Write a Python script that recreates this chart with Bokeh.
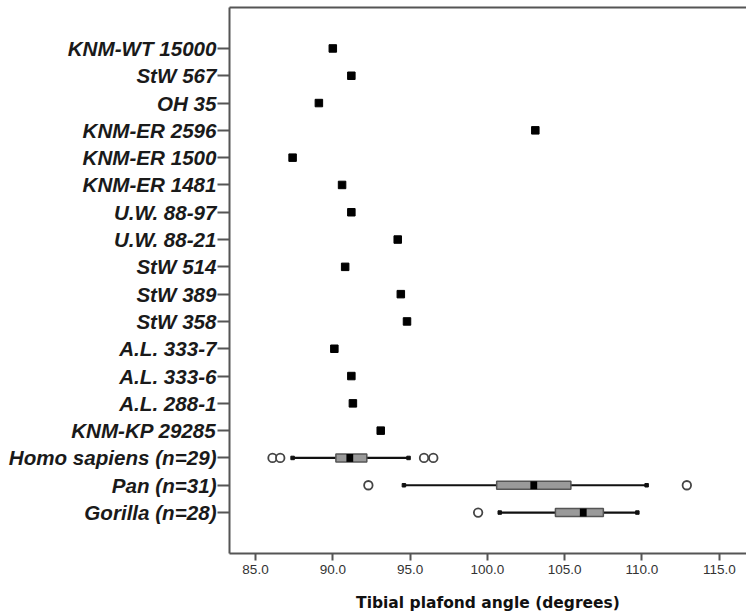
from bokeh.plotting import figure
from bokeh.models import (Range1d, FixedTicker, LinearAxis, NumeralTickFormatter,
                          ColumnDataSource)
from bokeh.embed import file_html
from bokeh.resources import INLINE

# Individual fossil specimens: tibial plafond angle (degrees)
fossils = ["KNM-WT 15000", "StW 567", "OH 35", "KNM-ER 2596", "KNM-ER 1500",
           "KNM-ER 1481", "U.W. 88-97", "U.W. 88-21", "StW 514", "StW 389",
           "StW 358", "A.L. 333-7", "A.L. 333-6", "A.L. 288-1", "KNM-KP 29285"]
fossil_angles = [90.0, 91.2, 89.1, 103.1, 87.4, 90.6, 91.2, 94.2, 90.8, 94.4,
                 94.8, 90.1, 91.2, 91.3, 93.1]

# Extant comparative samples (box plot summaries)
groups = ["Homo sapiens (n=29)", "Pan (n=31)", "Gorilla (n=28)"]
whisker_low = [87.4, 94.6, 100.8]
q1 = [90.2, 100.6, 104.4]
median = [91.1, 103.0, 106.2]
q3 = [92.2, 105.4, 107.5]
whisker_high = [94.9, 110.3, 109.7]

outlier_groups = ["Homo sapiens (n=29)", "Homo sapiens (n=29)",
                  "Homo sapiens (n=29)", "Homo sapiens (n=29)",
                  "Pan (n=31)", "Pan (n=31)", "Gorilla (n=28)"]
outlier_angles = [86.1, 86.6, 95.9, 96.5, 92.3, 112.9, 99.4]

x_ticks = [85, 90, 95, 100, 105, 110, 115]

# Row positions: first category on top
rows = fossils + groups
pos = {name: len(rows) - 1 - i for i, name in enumerate(rows)}

p = figure(width=746, height=615, output_backend="svg", toolbar_location=None,
           x_range=Range1d(83.318, 116.76), y_range=Range1d(-1.5, len(rows) + 0.5),
           min_border_left=229, min_border_right=0, min_border_top=7,
           min_border_bottom=62)
p.outline_line_color = None
p.xgrid.visible = False
p.ygrid.visible = False
p.background_fill_color = "white"
p.border_fill_color = "white"

axis_col = "#555555"

# x axis
xa = p.xaxis[0]
xa.ticker = FixedTicker(ticks=x_ticks)
xa.formatter = NumeralTickFormatter(format="0.0")
xa.axis_label = "Tibial plafond angle (degrees)"
xa.axis_label_text_font = "DejaVu Sans"
xa.axis_label_text_font_style = "bold"
xa.axis_label_text_font_size = "15.5px"
xa.axis_label_text_color = "#111111"
xa.axis_label_standoff = 17
xa.major_label_text_font = "Liberation Sans"
xa.major_label_text_font_size = "13.5px"
xa.major_label_text_color = "#333333"
xa.major_label_standoff = 4
xa.axis_line_color = axis_col
xa.axis_line_width = 2
xa.major_tick_line_color = axis_col
xa.major_tick_line_width = 2
xa.major_tick_out = 7
xa.major_tick_in = 0
xa.minor_tick_line_color = None

# y axis with category names
ya = p.yaxis[0]
ya.ticker = FixedTicker(ticks=[pos[n] for n in rows])
ya.major_label_overrides = {pos[n]: n for n in rows}
ya.major_label_text_font = "Liberation Sans"
ya.major_label_text_font_style = "bold italic"
ya.major_label_text_font_size = "20.6px"
ya.major_label_text_color = "#1a1a1a"
ya.major_label_standoff = 1
ya.axis_line_color = axis_col
ya.axis_line_width = 2
ya.major_tick_line_color = axis_col
ya.major_tick_line_width = 2
ya.major_tick_out = 12
ya.major_tick_in = 0
ya.minor_tick_line_color = None

# top frame line
top = LinearAxis(ticker=FixedTicker(ticks=[]), axis_line_color=axis_col,
                 axis_line_width=2, major_tick_line_color=None,
                 minor_tick_line_color=None)
p.add_layout(top, "above")

# fossil specimens
fsrc = ColumnDataSource(dict(x=fossil_angles, y=[pos[n] for n in fossils]))
p.scatter("x", "y", source=fsrc, marker="square", size=7.5, color="black")

# box plots
gy = [pos[g] for g in groups]
bsrc = ColumnDataSource(dict(y=gy, lo=whisker_low, q1=q1, med=median, q3=q3,
                             hi=whisker_high))
p.segment(x0="lo", y0="y", x1="hi", y1="y", source=bsrc, line_color="#111111",
          line_width=2.2)
p.scatter("lo", "y", source=bsrc, marker="square", size=3.5, color="#111111")
p.scatter("hi", "y", source=bsrc, marker="square", size=3.5, color="#111111")
p.hbar(y="y", left="q1", right="q3", height=0.29, source=bsrc,
       fill_color="#9a9a9a", line_color="#555555", line_width=1.5)
med_w = 0.22
p.hbar(y=gy, left=[m - med_w for m in median], right=[m + med_w for m in median],
       height=0.29, fill_color="black", line_color=None)

osrc = ColumnDataSource(dict(x=outlier_angles, y=[pos[g] for g in outlier_groups]))
p.scatter("x", "y", source=osrc, marker="circle", size=8.5, fill_color="white",
          line_color="#444444", line_width=1.8)

open("out.html", "w").write(file_html(p, INLINE))
